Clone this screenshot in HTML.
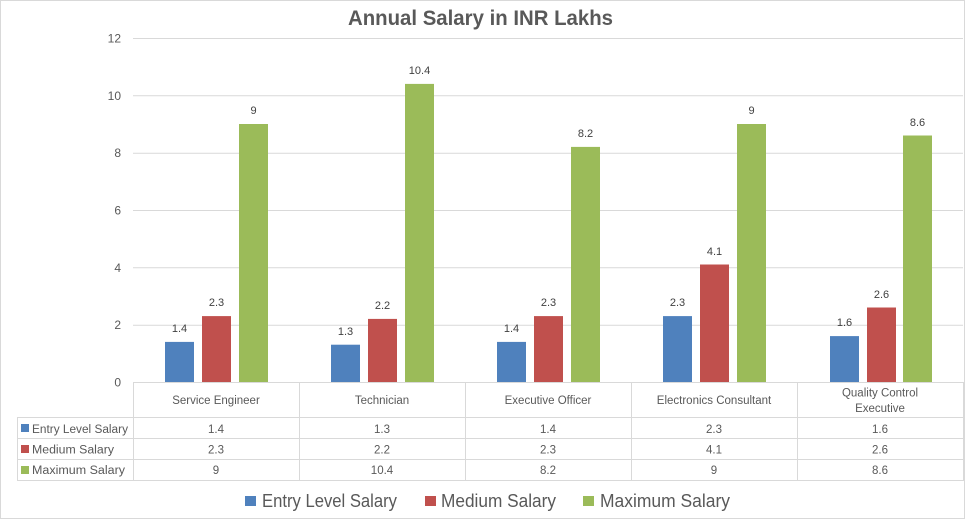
<!DOCTYPE html>
<html>
<head>
<meta charset="utf-8">
<style>
  html, body { margin: 0; padding: 0; background: #ffffff; }
  body { width: 966px; height: 520px; overflow: hidden; }
  svg { display: block; font-family: "Liberation Sans", Arial, sans-serif; }
</style>
</head>
<body>
<svg width="966" height="520" viewBox="0 0 966 520" xmlns="http://www.w3.org/2000/svg">
  <rect x="0" y="0" width="966" height="520" fill="#ffffff"/>
  <rect x="0.5" y="0.5" width="964" height="518" fill="none" stroke="#d9d9d9" stroke-width="1"/>

  <!-- Title -->
  <text x="348" y="25" font-size="21" font-weight="bold" fill="#595959" textLength="265" lengthAdjust="spacingAndGlyphs">Annual Salary in INR Lakhs</text>

  <!-- Gridlines -->
  <g stroke="#d9d9d9" stroke-width="1">
    <line x1="133" y1="38.5" x2="963" y2="38.5"/>
    <line x1="133" y1="95.8" x2="963" y2="95.8"/>
    <line x1="133" y1="153.2" x2="963" y2="153.2"/>
    <line x1="133" y1="210.5" x2="963" y2="210.5"/>
    <line x1="133" y1="267.8" x2="963" y2="267.8"/>
    <line x1="133" y1="325.2" x2="963" y2="325.2"/>
    <line x1="133" y1="382.5" x2="963" y2="382.5"/>
  </g>

  <!-- Y labels -->
  <g font-size="12" fill="#595959" text-anchor="end">
    <text x="121" y="42.5">12</text>
    <text x="121" y="99.8">10</text>
    <text x="121" y="157.2">8</text>
    <text x="121" y="214.5">6</text>
    <text x="121" y="271.8">4</text>
    <text x="121" y="329.2">2</text>
    <text x="121" y="386.5">0</text>
  </g>

  <!-- Bars -->
  <!-- Service Engineer cs=133 -->
  <rect x="165" y="341.9" width="29" height="40.1" fill="#4f81bd"/>
  <rect x="202" y="316.1" width="29" height="65.9" fill="#c0504d"/>
  <rect x="239" y="124" width="29" height="258" fill="#9bbb59"/>
  <!-- Technician cs=299 -->
  <rect x="331" y="344.7" width="29" height="37.3" fill="#4f81bd"/>
  <rect x="368" y="318.9" width="29" height="63.1" fill="#c0504d"/>
  <rect x="405" y="83.9" width="29" height="298.1" fill="#9bbb59"/>
  <!-- Executive Officer cs=465 -->
  <rect x="497" y="341.9" width="29" height="40.1" fill="#4f81bd"/>
  <rect x="534" y="316.1" width="29" height="65.9" fill="#c0504d"/>
  <rect x="571" y="146.9" width="29" height="235.1" fill="#9bbb59"/>
  <!-- Electronics Consultant cs=631 -->
  <rect x="663" y="316.1" width="29" height="65.9" fill="#4f81bd"/>
  <rect x="700" y="264.5" width="29" height="117.5" fill="#c0504d"/>
  <rect x="737" y="124" width="29" height="258" fill="#9bbb59"/>
  <!-- Quality Control Executive cs=797 -->
  <rect x="830" y="336.1" width="29" height="45.9" fill="#4f81bd"/>
  <rect x="867" y="307.5" width="29" height="74.5" fill="#c0504d"/>
  <rect x="903" y="135.5" width="29" height="246.5" fill="#9bbb59"/>

  <!-- Data labels -->
  <g font-size="11" fill="#404040" text-anchor="middle">
    <text x="179.5" y="332">1.4</text>
    <text x="216.5" y="306">2.3</text>
    <text x="253.5" y="114">9</text>

    <text x="345.5" y="335">1.3</text>
    <text x="382.5" y="309">2.2</text>
    <text x="419.5" y="74">10.4</text>

    <text x="511.5" y="332">1.4</text>
    <text x="548.5" y="306">2.3</text>
    <text x="585.5" y="137">8.2</text>

    <text x="677.5" y="306">2.3</text>
    <text x="714.5" y="255">4.1</text>
    <text x="751.5" y="114">9</text>

    <text x="844.5" y="326">1.6</text>
    <text x="881.5" y="298">2.6</text>
    <text x="917.5" y="126">8.6</text>
  </g>

  <!-- Data table lines -->
  <g stroke="#d9d9d9" stroke-width="1">
    <line x1="133.5" y1="382" x2="133.5" y2="480"/>
    <line x1="299.5" y1="382" x2="299.5" y2="480"/>
    <line x1="465.5" y1="382" x2="465.5" y2="480"/>
    <line x1="631.5" y1="382" x2="631.5" y2="480"/>
    <line x1="797.5" y1="382" x2="797.5" y2="480"/>
    <line x1="963.5" y1="382" x2="963.5" y2="480"/>
    <line x1="17.5" y1="417" x2="17.5" y2="480"/>
    <line x1="17" y1="417.5" x2="964" y2="417.5"/>
    <line x1="17" y1="438.5" x2="964" y2="438.5"/>
    <line x1="17" y1="459.5" x2="964" y2="459.5"/>
    <line x1="17" y1="480.5" x2="964" y2="480.5"/>
  </g>

  <!-- Category labels -->
  <g font-size="11.5" fill="#595959" text-anchor="middle">
    <text x="216" y="404">Service Engineer</text>
    <text x="382" y="404">Technician</text>
    <text x="548" y="404">Executive Officer</text>
    <text x="714" y="404">Electronics Consultant</text>
    <text x="880" y="396.5">Quality Control</text>
    <text x="880" y="412">Executive</text>
  </g>

  <!-- Row headers -->
  <rect x="21" y="424" width="8" height="8" fill="#4f81bd"/>
  <rect x="21" y="445" width="8" height="8" fill="#c0504d"/>
  <rect x="21" y="466" width="8" height="8" fill="#9bbb59"/>
  <g font-size="11.5" fill="#595959">
    <text x="32" y="433" textLength="96" lengthAdjust="spacingAndGlyphs">Entry Level Salary</text>
    <text x="32" y="453.5" textLength="82" lengthAdjust="spacingAndGlyphs">Medium Salary</text>
    <text x="32" y="474" textLength="93" lengthAdjust="spacingAndGlyphs">Maximum Salary</text>
  </g>

  <!-- Table values -->
  <g font-size="11.5" fill="#595959" text-anchor="middle">
    <text x="216" y="433">1.4</text>
    <text x="382" y="433">1.3</text>
    <text x="548" y="433">1.4</text>
    <text x="714" y="433">2.3</text>
    <text x="880" y="433">1.6</text>

    <text x="216" y="453.5">2.3</text>
    <text x="382" y="453.5">2.2</text>
    <text x="548" y="453.5">2.3</text>
    <text x="714" y="453.5">4.1</text>
    <text x="880" y="453.5">2.6</text>

    <text x="216" y="474">9</text>
    <text x="382" y="474">10.4</text>
    <text x="548" y="474">8.2</text>
    <text x="714" y="474">9</text>
    <text x="880" y="474">8.6</text>
  </g>

  <!-- Legend -->
  <rect x="245" y="496" width="11" height="10" fill="#4f81bd"/>
  <rect x="425" y="496" width="11" height="10" fill="#c0504d"/>
  <rect x="583" y="496" width="11" height="10" fill="#9bbb59"/>
  <g font-size="18" fill="#595959">
    <text x="262" y="507" textLength="135" lengthAdjust="spacingAndGlyphs">Entry Level Salary</text>
    <text x="441" y="507" textLength="115" lengthAdjust="spacingAndGlyphs">Medium Salary</text>
    <text x="600" y="507" textLength="130" lengthAdjust="spacingAndGlyphs">Maximum Salary</text>
  </g>
</svg>
</body>
</html>
